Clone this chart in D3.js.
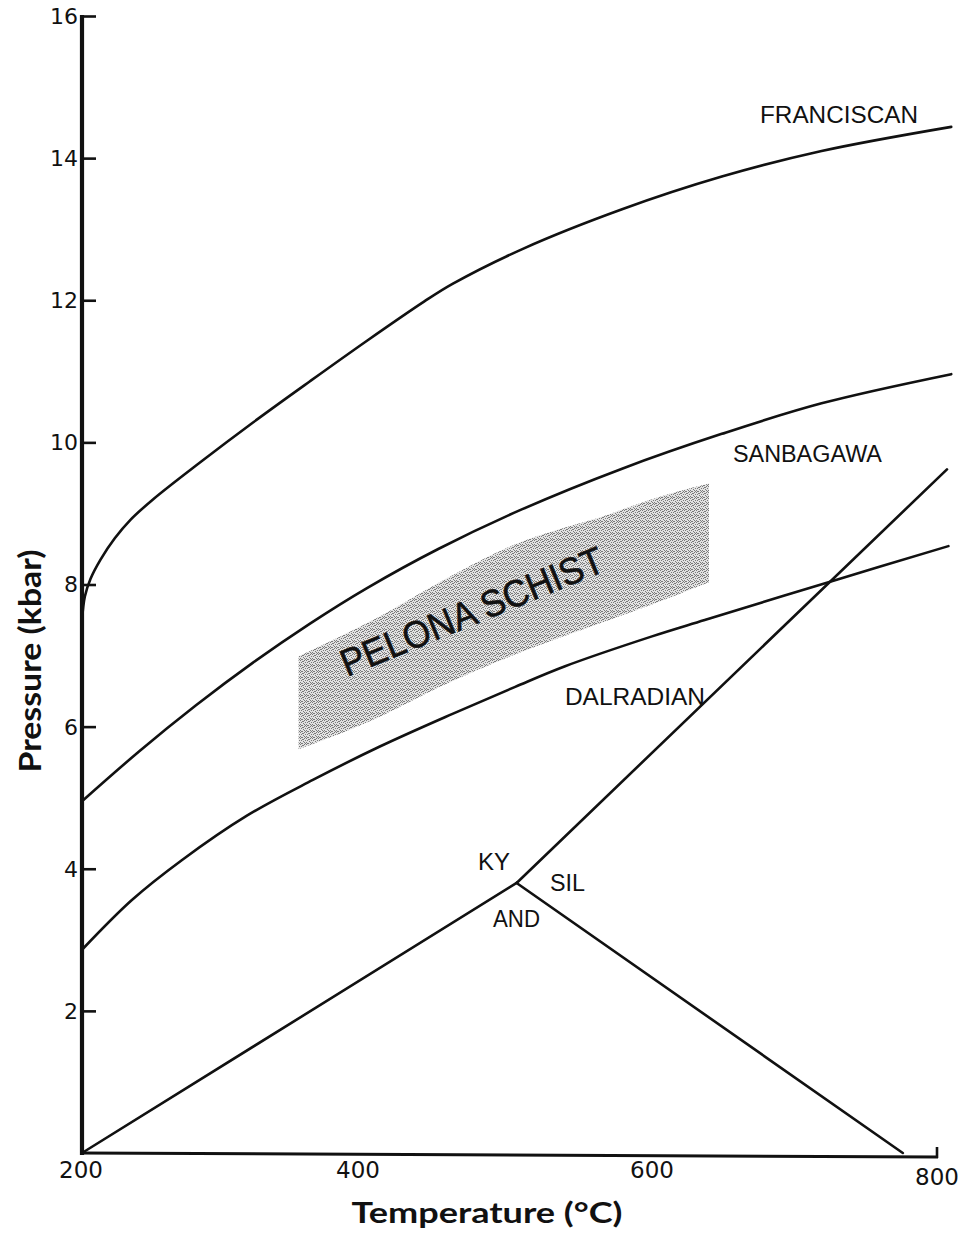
<!DOCTYPE html>
<html>
<head>
<meta charset="utf-8">
<script src="https://cdn.jsdelivr.net/npm/d3@7"></script>
<style>
  html, body { margin: 0; padding: 0; background: #fff; }
  svg { display: block; }
</style>
</head>
<body>
<svg id="chart" width="967" height="1239"></svg>
<script>
// Axis ticks
const tempTicks = [200, 400, 600, 800];
const pressureTicks = [2, 4, 6, 8, 10, 12, 14, 16];

// Metamorphic facies-series gradients (T in °C, P in kbar)
const franciscanT = [200, 202, 206, 213, 223, 234, 250, 283, 320, 360, 400, 440, 460, 509, 579, 649, 719, 810];
const franciscanP = [7.5, 7.83, 8.08, 8.35, 8.65, 8.91, 9.2, 9.72, 10.28, 10.86, 11.43, 11.98, 12.23, 12.72, 13.28, 13.74, 14.1, 14.44];

const sanbagawaT = [200, 240, 280, 320, 360, 400, 450, 509, 579, 649, 719, 810];
const sanbagawaP = [4.95, 5.65, 6.3, 6.9, 7.45, 7.95, 8.5, 9.06, 9.63, 10.12, 10.55, 10.96];

const dalradianT = [200, 235, 270, 316, 362, 409, 460, 504, 539, 600, 637, 725, 808];
const dalradianP = [2.86, 3.56, 4.12, 4.75, 5.25, 5.72, 6.18, 6.56, 6.85, 7.27, 7.5, 8.04, 8.54];

// Al2SiO5 triple point and phase boundaries
const triplePoint = { t: 505, p: 3.8 };
const andKyT = [200, triplePoint.t];
const andKyP = [0, triplePoint.p];
const kySilT = [triplePoint.t, 807];
const kySilP = [triplePoint.p, 9.62];
const andSilT = [triplePoint.t, 776];
const andSilP = [triplePoint.p, 0];

// Pelona Schist field
const pelonaT = [352, 409, 450, 502, 570, 600, 640];
const pelonaTop = [6.99, 7.55, 8.02, 8.55, 8.99, 9.2, 9.42];
const pelonaBottom = [5.68, 6.14, 6.55, 7.0, 7.5, 7.72, 8.03];

// Curve and field labels: text, anchor temperature, anchor pressure
const labelText = ["FRANCISCAN", "SANBAGAWA", "DALRADIAN", "KY", "SIL", "AND"];
const labelT = [675.8, 656.8, 538.9, 477.9, 528.4, 488.4];
const labelP = [14.49, 9.72, 6.30, 3.98, 3.69, 3.18];
const labelWidth = [158, 149, 140, 32, 35, 47];

const fieldName = "PELONA SCHIST";
const fieldT = 477.2, fieldP = 7.45;

const svg = d3.select("#chart");

const x = d3.scaleLinear().domain([200, 800]).range([82, 937]);
const y = d3.scaleLinear().domain([0, 16]).range([1153, 16]);

// Stippled halftone fill
const defs = svg.append("defs");
const pat = defs.append("pattern")
  .attr("id", "stipple")
  .attr("patternUnits", "userSpaceOnUse")
  .attr("width", 6).attr("height", 6);
pat.append("rect").attr("width", 6).attr("height", 6).attr("fill", "#e2e2e2");
[[0,0],[2,1],[4,0],[1,2],[3,3],[5,2],[0,4],[2,5],[4,4],[5,5],[3,1],[1,5]].forEach(([px, py]) => {
  pat.append("rect").attr("x", px).attr("y", py).attr("width", 1).attr("height", 1).attr("fill", "#7a7a7a");
});
defs.append("filter").attr("id", "soft")
  .append("feGaussianBlur").attr("stdDeviation", 0.5);

// Pelona Schist field
const area = d3.area()
  .x(d => x(d.t))
  .y0(d => y(d.lo))
  .y1(d => y(d.hi))
  .curve(d3.curveMonotoneX);
svg.append("path")
  .datum(pelonaT.map((t, i) => ({ t, hi: pelonaTop[i], lo: pelonaBottom[i] })))
  .attr("d", area)
  .attr("fill", "url(#stipple)")
  .attr("filter", "url(#soft)");

const line = d3.line()
  .x(d => x(d.t))
  .y(d => y(d.p))
  .curve(d3.curveCatmullRom.alpha(0.5));

function series(ts, ps) { return ts.map((t, i) => ({ t, p: ps[i] })); }

const curves = [
  series(franciscanT, franciscanP),
  series(sanbagawaT, sanbagawaP),
  series(dalradianT, dalradianP),
  series(andKyT, andKyP),
  series(kySilT, kySilP),
  series(andSilT, andSilP)
];
svg.selectAll("path.curve")
  .data(curves)
  .join("path")
  .attr("class", "curve")
  .attr("d", line)
  .attr("fill", "none")
  .attr("stroke", "#111")
  .attr("stroke-width", 2.6)
  .attr("stroke-linecap", "round");

// Y axis: thick line, inward ticks, labels on the left
const yAxis = d3.axisRight(y)
  .tickValues(pressureTicks)
  .tickSize(14)
  .tickFormat("");
const gy = svg.append("g").attr("transform", `translate(${x(200)},0)`).call(yAxis);
gy.select(".domain").remove();
gy.selectAll(".tick line").attr("stroke", "#111").attr("stroke-width", 2.6);
svg.append("line")
  .attr("x1", x(200)).attr("x2", x(200))
  .attr("y1", y(16) - 1).attr("y2", y(0) + 2)
  .attr("stroke", "#111").attr("stroke-width", 4.2);

svg.append("g").selectAll("text")
  .data(pressureTicks)
  .join("text")
  .attr("x", x(200) - 4)
  .attr("y", d => y(d))
  .attr("dy", "0.36em")
  .attr("text-anchor", "end")
  .attr("font-family", "'DejaVu Sans', sans-serif")
  .attr("font-size", 22)
  .attr("fill", "#111")
  .text(d => d);

// X axis
svg.append("line")
  .attr("x1", x(200) - 2).attr("x2", x(800) + 1)
  .attr("y1", y(0)).attr("y2", y(0) + 4)
  .attr("stroke", "#111").attr("stroke-width", 3);
svg.append("line")
  .attr("x1", x(800)).attr("x2", x(800))
  .attr("y1", y(0) + 5).attr("y2", y(0) - 6)
  .attr("stroke", "#111").attr("stroke-width", 2.6);

svg.append("g").selectAll("text")
  .data(tempTicks)
  .join("text")
  .attr("x", d => x(d) - (d === 400 ? 9 : 0) - (d === 200 ? 1 : 0))
  .attr("y", d => y(0) + 25 + (d === 800 ? 7 : 0))
  .attr("text-anchor", "middle")
  .attr("font-family", "'DejaVu Sans', sans-serif")
  .attr("font-size", 23)
  .attr("fill", "#111")
  .text(d => d);

// Axis titles
svg.append("text")
  .attr("x", 487).attr("y", 1223)
  .attr("text-anchor", "middle")
  .attr("font-family", "Lato, 'Noto Sans', sans-serif")
  .attr("font-weight", "bold")
  .attr("font-size", 29)
  .attr("textLength", 271)
  .attr("lengthAdjust", "spacingAndGlyphs")
  .attr("fill", "#111")
  .text("Temperature (°C)");

svg.append("text")
  .attr("transform", "translate(41,661) rotate(-90)")
  .attr("text-anchor", "middle")
  .attr("font-family", "Lato, 'Noto Sans', sans-serif")
  .attr("font-weight", "bold")
  .attr("font-size", 30)
  .attr("textLength", 223)
  .attr("lengthAdjust", "spacingAndGlyphs")
  .attr("fill", "#111")
  .text("Pressure (kbar)");

// Curve and field labels
svg.append("g").selectAll("text")
  .data(labelText)
  .join("text")
  .attr("x", (d, i) => x(labelT[i]))
  .attr("y", (d, i) => y(labelP[i]))
  .attr("font-family", "'Liberation Sans', Arial, sans-serif")
  .attr("font-size", 23)
  .attr("textLength", (d, i) => labelWidth[i])
  .attr("lengthAdjust", "spacingAndGlyphs")
  .attr("fill", "#111")
  .text(d => d);

svg.append("text")
  .attr("transform", `translate(${x(fieldT)},${y(fieldP)}) rotate(-22.3)`)
  .attr("text-anchor", "middle")
  .attr("font-family", "'Liberation Sans', Arial, sans-serif")
  .attr("font-size", 38)
  .attr("textLength", 281)
  .attr("lengthAdjust", "spacingAndGlyphs")
  .attr("fill", "#111")
  .attr("stroke", "#111")
  .attr("stroke-width", 0.6)
  .text(fieldName);
</script>
</body>
</html>
